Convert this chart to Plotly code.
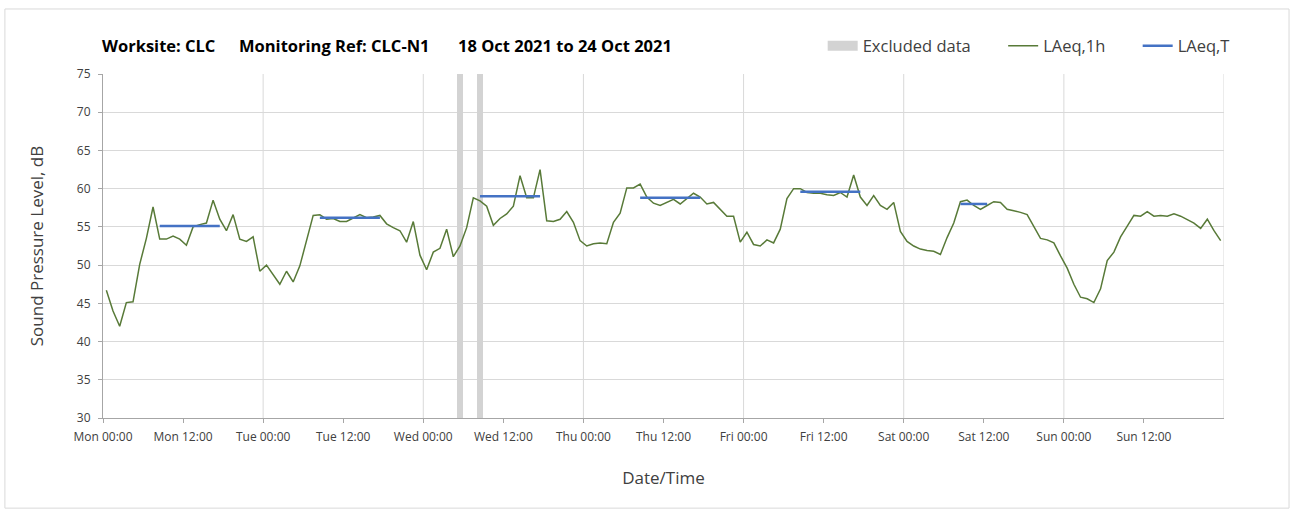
import pandas as pd
import plotly.graph_objects as go

# ---------------- data ----------------
start_time = "2021-10-18 00:30"
laeq_1h = [
    46.7, 44.0, 42.0, 45.1, 45.2, 50.1, 53.5, 57.6, 53.4, 53.4, 53.8, 53.4,
    52.6, 55.0, 55.3, 55.5, 58.5, 56.0, 54.5, 56.6, 53.4, 53.1, 53.7, 49.2,
    50.0, 48.7, 47.5, 49.2, 47.8, 49.9, 53.2, 56.5, 56.6, 56.0, 56.1, 55.7,
    55.7, 56.1, 56.6, 56.2, 56.3, 56.5, 55.4, 54.9, 54.5, 53.0, 55.7, 51.3,
    49.4, 51.7, 52.2, 54.7, 51.1, 52.5, 54.9, 58.8, 58.4, 57.7, 55.2, 56.1,
    56.7, 57.7, 61.7, 58.8, 58.8, 62.5, 55.8, 55.7, 56.0, 57.0, 55.6, 53.2,
    52.5, 52.8, 52.9, 52.8, 55.6, 56.8, 60.1, 60.1, 60.6, 58.9, 58.1, 57.8,
    58.2, 58.6, 58.0, 58.7, 59.4, 58.9, 58.0, 58.2, 57.3, 56.4, 56.4, 53.0,
    54.3, 52.7, 52.5, 53.3, 52.9, 54.7, 58.7, 60.0, 60.0, 59.5, 59.4, 59.4,
    59.2, 59.1, 59.5, 58.9, 61.8, 58.9, 57.8, 59.1, 57.8, 57.3, 58.2, 54.4,
    53.1, 52.5, 52.1, 51.9, 51.8, 51.4, 53.6, 55.5, 58.3, 58.5, 57.8, 57.3,
    57.8, 58.3, 58.2, 57.3, 57.1, 56.9, 56.6, 55.0, 53.5, 53.3, 52.9, 51.2,
    49.6, 47.5, 45.8, 45.6, 45.1, 46.9, 50.6, 51.7, 53.7, 55.1, 56.5, 56.4,
    57.0, 56.4, 56.5, 56.4, 56.7, 56.4, 56.0, 55.5, 54.8, 56.0, 54.5, 53.2,
]

# LAeq,T periods (index of first / last hourly point) and levels
laeq_t_start_idx = [8, 32, 56, 80, 104, 128]
laeq_t_end_idx = [17, 41, 65, 89, 113, 132]
laeq_t_values = [55.1, 56.2, 59.0, 58.8, 59.6, 58.0]

# Excluded data periods
excluded_start = ["2021-10-20 05:00", "2021-10-20 08:00"]
excluded_end = ["2021-10-20 06:00", "2021-10-20 09:00"]

x_range = ["2021-10-18 00:00", "2021-10-25 00:00"]
y_range = [30, 75]
day_lines = ["2021-10-19", "2021-10-20", "2021-10-21", "2021-10-22",
             "2021-10-23", "2021-10-24", "2021-10-25"]
tick_labels = ["Mon 00:00", "Mon 12:00", "Tue 00:00", "Tue 12:00", "Wed 00:00",
               "Wed 12:00", "Thu 00:00", "Thu 12:00", "Fri 00:00", "Fri 12:00",
               "Sat 00:00", "Sat 12:00", "Sun 00:00", "Sun 12:00"]

title_parts = ["Worksite: CLC", "Monitoring Ref: CLC-N1", "18 Oct 2021 to 24 Oct 2021"]

# ---------------- derived ----------------
times = pd.date_range(start_time, periods=len(laeq_1h), freq="h")
tick_vals = pd.date_range(x_range[0], periods=len(tick_labels), freq="12h")

tx, ty = [], []
for s, e, v in zip(laeq_t_start_idx, laeq_t_end_idx, laeq_t_values):
    tx += [times[s], times[e], None]
    ty += [v, v, None]

ex_s = pd.to_datetime(excluded_start)
ex_e = pd.to_datetime(excluded_end)
ex_centers = ex_s + (ex_e - ex_s) / 2
ex_widths = [(e - s).total_seconds() * 1000 for s, e in zip(ex_s, ex_e)]

FONT = "Open Sans"
GREEN = "#587a38"
BLUE = "#4472c4"
GREY_BAND = "#d3d3d3"
TXT = "#404040"

fig = go.Figure()

fig.add_trace(go.Bar(
    x=ex_centers, y=[y_range[1] - y_range[0]] * len(ex_centers), base=y_range[0],
    width=ex_widths, marker=dict(color=GREY_BAND, line=dict(width=0)),
    showlegend=False, hoverinfo="skip", name="Excluded data",
))
fig.add_trace(go.Scatter(
    x=[None], y=[None], mode="lines", name="Excluded data",
    line=dict(color=GREY_BAND, width=10), legend="legend",
))
fig.add_trace(go.Scatter(
    x=times, y=laeq_1h, mode="lines", name="LAeq,1h",
    line=dict(color=GREEN, width=1.5), legend="legend2",
))
fig.add_trace(go.Scatter(
    x=tx, y=ty, mode="lines", name="LAeq,T",
    line=dict(color=BLUE, width=2.5), legend="legend3",
))

shapes = []
for d in day_lines:
    shapes.append(dict(type="line", xref="x", yref="paper", x0=d, x1=d, y0=0, y1=1,
                       line=dict(color="#d9d9d9", width=1), layer="below"))
# outer frame
shapes.append(dict(type="rect", xref="paper", yref="paper",
                   x0=-0.0875, x1=1.058, y0=-0.262, y1=1.189,
                   line=dict(color="#d9d9d9", width=1), layer="below"))

annotations = []
for part, xp in zip(title_parts, [-0.0027, 0.1195, 0.315]):
    annotations.append(dict(text="<b>%s</b>" % part, xref="paper", yref="paper",
                            x=xp, y=1.084, xanchor="left", yanchor="middle",
                            showarrow=False, font=dict(family=FONT, size=16.5, color="#000000")))

leg_common = dict(orientation="h", yanchor="middle", y=1.081, xanchor="left",
                  font=dict(family=FONT, size=16.5, color=TXT), bgcolor="rgba(0,0,0,0)",
                  borderwidth=0, itemwidth=30)

fig.update_layout(
    width=1295, height=514,
    margin=dict(l=103, r=71, t=74, b=96),
    paper_bgcolor="white", plot_bgcolor="white",
    font=dict(family=FONT, color=TXT),
    shapes=shapes, annotations=annotations,
    legend=dict(x=0.642, **leg_common),
    legend2=dict(x=0.803, **leg_common),
    legend3=dict(x=0.923, **leg_common),
    bargap=0,
)

fig.update_xaxes(
    type="date", range=x_range, tickvals=tick_vals, ticktext=tick_labels,
    showgrid=False, showline=True, linecolor="#a6a6a6",
    ticks="outside", ticklen=4, tickcolor="#a6a6a6", ticklabelstandoff=4,
    tickfont=dict(family=FONT, size=12, color="#404040"),
    title=dict(text="Date/Time", font=dict(family=FONT, size=17, color=TXT), standoff=27),
    zeroline=False,
)
fig.update_yaxes(
    range=y_range, dtick=5, showgrid=True, gridcolor="#d9d9d9", gridwidth=1,
    showline=True, linecolor="#a6a6a6", ticks="outside", ticklen=4, tickcolor="#a6a6a6",
    ticklabelstandoff=5,
    tickfont=dict(family=FONT, size=12, color="#404040"),
    title=dict(text="Sound Pressure Level, dB", font=dict(family=FONT, size=17, color=TXT), standoff=28),
    zeroline=False,
)

fig.write_html("out.html", config={"displayModeBar": False},
               post_script="document.body.style.margin='0';document.body.style.overflow='hidden';")
